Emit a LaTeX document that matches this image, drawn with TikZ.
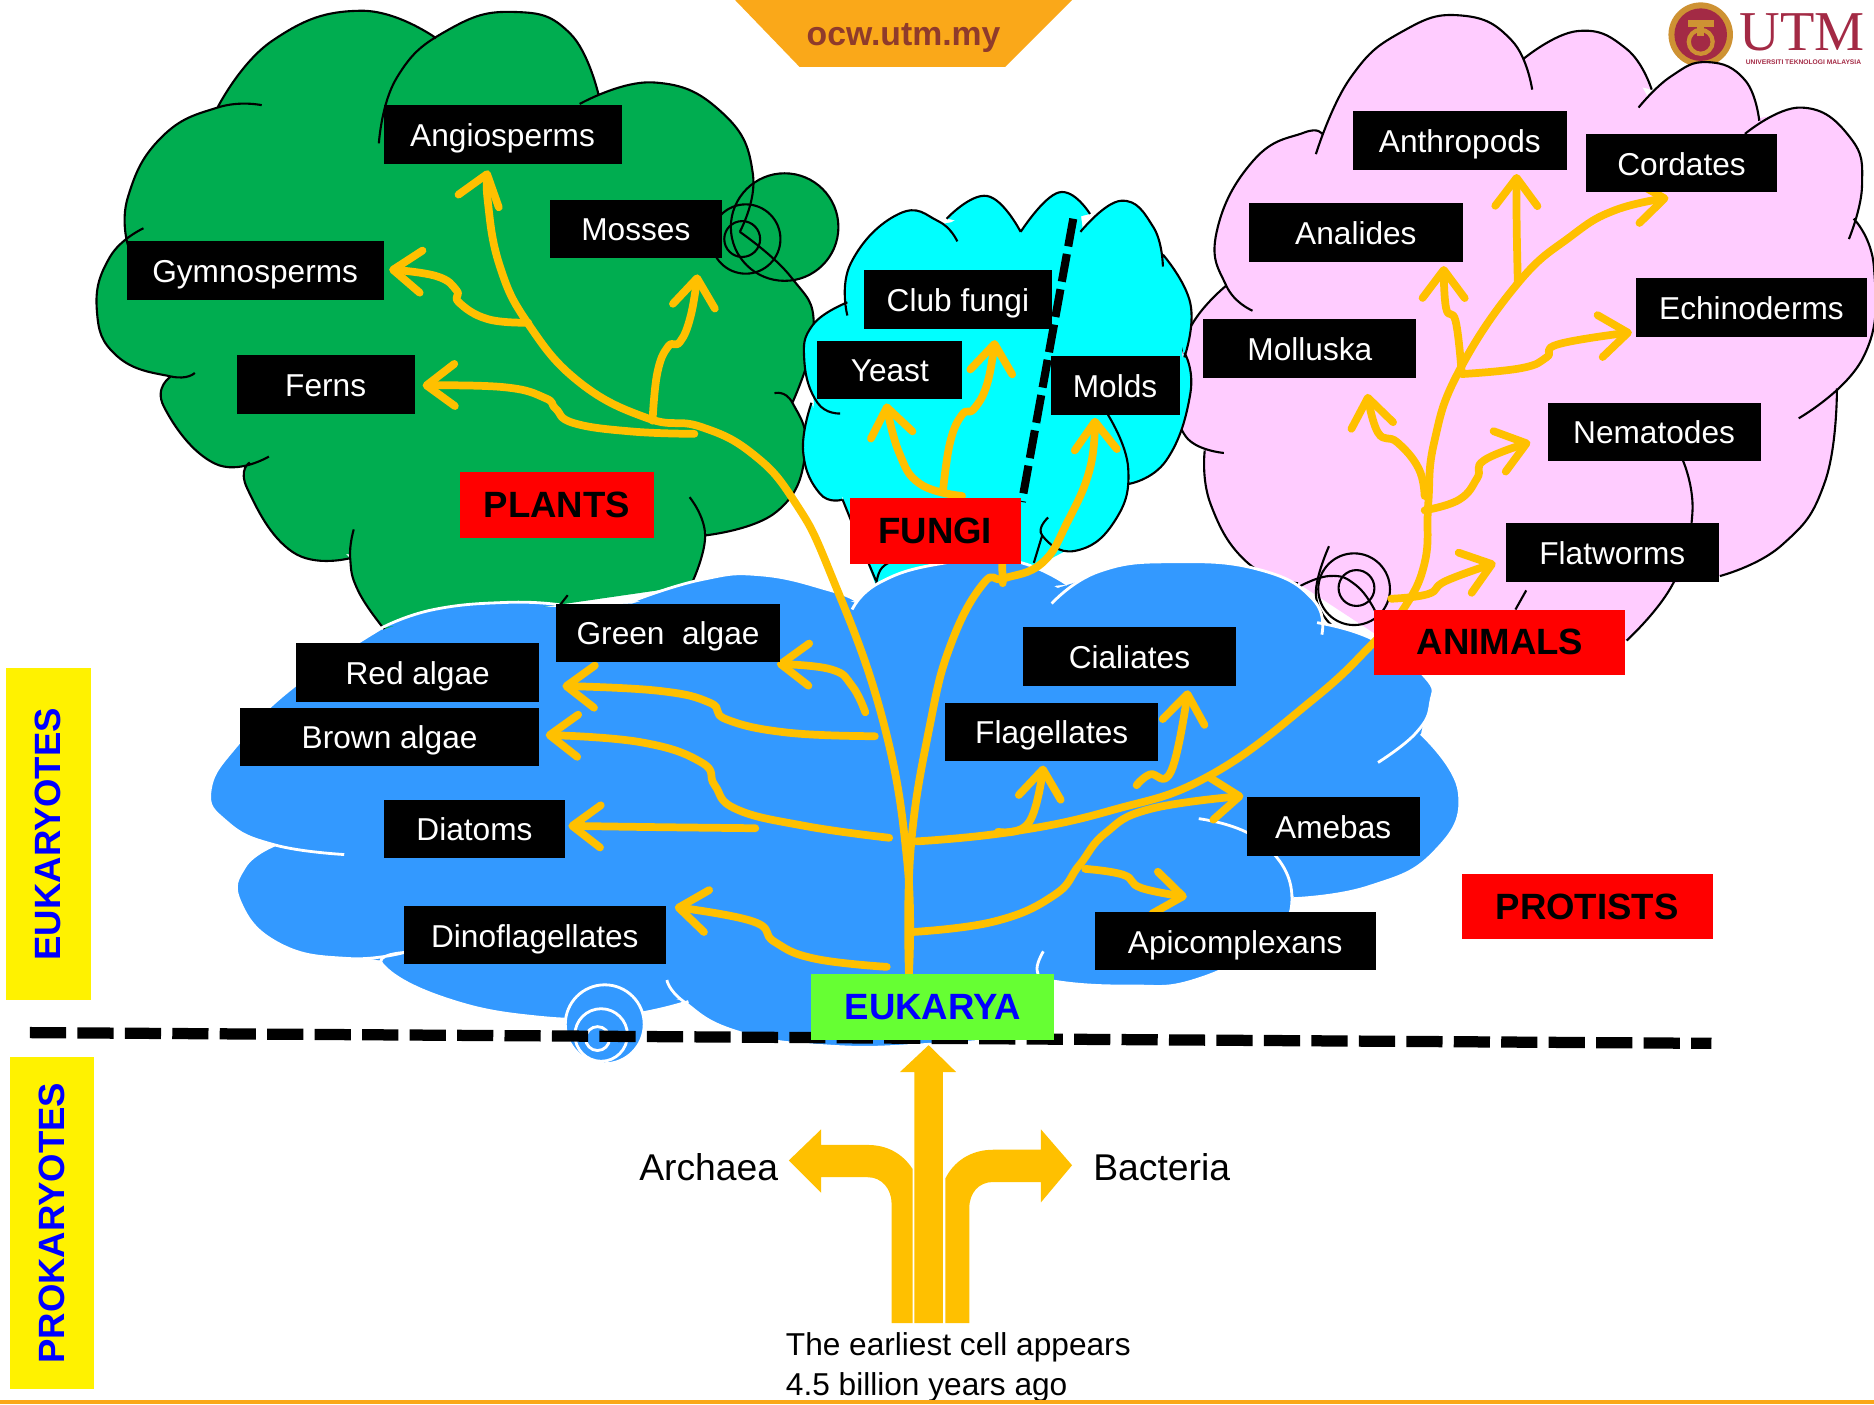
\documentclass[tikz,border=0pt]{standalone}
\usepackage{fontspec}
\setmainfont{Liberation Sans}
\newfontfamily\utmserif{Liberation Serif}
\usetikzlibrary{arrows.meta,calc,backgrounds}
\definecolor{gold}{HTML}{FFC000}
\definecolor{plantgreen}{HTML}{00AD50}
\definecolor{fungicyan}{HTML}{00FFFF}
\definecolor{animalpink}{HTML}{FFCCFF}
\definecolor{protistblue}{HTML}{3399FF}
\definecolor{eukgreen}{HTML}{66FF33}
\definecolor{tabgold}{HTML}{FAA819}
\definecolor{tabtext}{HTML}{8F3B2B}
\definecolor{utmred}{HTML}{A32A45}
\definecolor{utmgold}{HTML}{CE9233}
\def\unit{0.1195mm}
\tikzset{
  labelbox/.style={fill=black, text=white, inner sep=0pt, text height=6.8pt, text depth=0pt, minimum height=49*\unit, minimum width=#1*\unit, font=\fontsize{9}{11}\selectfont},
  redtag/.style={fill=red, inner sep=0pt, minimum height=55*\unit, minimum width=#1*\unit, font=\fontsize{10.4}{12}\selectfont\bfseries},
  sidebar/.style={fill=yellow, text=blue, inner sep=0pt, rotate=90, minimum height=71*\unit, minimum width=278*\unit, font=\fontsize{10.4}{12}\selectfont\bfseries},
  plainlabel/.style={inner sep=0pt, font=\fontsize{10.6}{12}\selectfont},
  bump/.style={smooth, tension=0.8},
  cloudline/.style={draw=black, line width=0.6pt},
  trunkline/.style={draw=gold, line width=2.2pt, line cap=round, line join=round, tension=0.75},
  branch/.style={trunkline, -{Straight Barb[length=8pt,width=12pt,round]}}
}
\begin{document}
\begin{tikzpicture}[x=0.01195cm, y=-0.01195cm]
\useasboundingbox (0,0) rectangle (1568,1175);
% logo and web tab
\begin{scope}[on background layer]
\fill[tabgold] (615,0) -- (669,56) -- (841,56) -- (897,0) -- cycle;
\fill[utmgold] (1423,29) circle (27);
\fill[utmred] (1423,29) circle (22);
\fill[utmgold] (1412,17) rectangle (1434,23);
\draw[utmgold, line width=1.2pt] (1423,35) circle (10);
\fill[utmgold] (1420,20) rectangle (1426,30);
\fill[utmred] (1423,33) circle (3);
% plants
\fill[plantgreen] (656.5,190) circle (45);
\fill[plantgreen] (182,90) -- (240,30) -- (302,12) -- (365,34) -- (430,13) -- (485,42) -- (495,85) -- (547,72) -- (605,100) -- (627,146) -- (619,194) -- (672,255) -- (678,274) -- (663,337) -- (670,378) -- (650,425) -- (590,446) -- (578,490) -- (322,527) -- (293,464) -- (245,458) -- (212,409) -- (209,387) -- (185,384) -- (142,340) -- (143,315) -- (100,296) -- (85,259) -- (95,215) -- (107,205) -- (110,165) -- (138,118) -- cycle;
\filldraw[cloudline, fill=plantgreen]
  plot[bump] coordinates {(182,90) (228,34) (302,9) (365,32)}
  plot[bump] coordinates {(317,120) (332,65) (375,25) (430,10) (477,28) (501,80)}
  plot[bump] coordinates {(485,87) (547,69) (605,95) (630,146) (619,194)}
  plot[bump] coordinates {(619,194) (662,232) (681,274) (663,337)}
  plot[bump] coordinates {(648,329) (663,337) (674,378) (650,428) (590,448)}
  plot[bump] coordinates {(577,416) (590,448) (578,490)}
  plot[bump] coordinates {(296,443) (293,467) (300,495) (322,527)}
  plot[bump] coordinates {(293,467) (245,462) (207,409) (209,387)}
  plot[bump] coordinates {(225,382) (180,388) (137,340) (143,315)}
  plot[bump] coordinates {(163,312) (143,315) (98,298) (81,259) (92,215) (120,191)}
  plot[bump] coordinates {(107,205) (107,165) (135,115) (182,90) (219,88)}
  plot coordinates {(475,498) (468,507)};
\draw[cloudline] (656.5,190) circle (45);
\draw[cloudline] (624,200) circle (29);
\draw[cloudline] (621,200) circle (15);
% animals
\fill[animalpink] (1130,70) -- (1174,30) -- (1223,16) -- (1262,36) -- (1275,49) -- (1320,29) -- (1358,43) -- (1378,80) -- (1398,67) -- (1429,55) -- (1458,69) -- (1465,100) -- (1507,93) -- (1545,115) -- (1555,155) -- (1551,183) -- (1565,224) -- (1556,299) -- (1537,325) -- (1524,403) -- (1489,453) -- (1439,482) -- (1400,488) -- (1361,536) -- (1150,530) -- (1086,488) -- (1046,468) -- (1016,422) -- (1008,377) -- (994,363) -- (989,325) -- (998,276) -- (1026,239) -- (1021,194) -- (1051,136) -- (1091,114) -- (1106,112) -- cycle;
\filldraw[cloudline, fill=animalpink]
  plot[bump] coordinates {(1101,129) (1130,65) (1174,26) (1223,13) (1265,34) (1282,75)}
  plot[bump] coordinates {(1275,49) (1320,26) (1361,41) (1382,75)}
  plot[bump] coordinates {(1371,90) (1398,64) (1429,52) (1460,67) (1472,101)}
  plot[bump] coordinates {(1460,112) (1507,90) (1548,115) (1558,155) (1547,200)}
  plot[bump] coordinates {(1551,183) (1568,224) (1559,299) (1505,350)}
  plot[bump] coordinates {(1537,325) (1527,403) (1491,456) (1439,482)}
  plot[bump] coordinates {(1408,385) (1416,430) (1400,488) (1361,536)}
  plot coordinates {(1277,494) (1268,510)}
  plot[bump] coordinates {(1106,112) (1091,111) (1049,134) (1018,194) (1026,239) (1048,260)}
  plot[bump] coordinates {(1026,239) (995,276) (986,325) (992,365) (1024,379)}
  plot[bump] coordinates {(1008,377) (1013,422) (1044,471) (1086,488)};
\draw[cloudline] (1133,493) circle (30);
\draw[cloudline] (1135,492) circle (15);
\draw[cloudline] plot[bump] coordinates {(1083,493) (1112,482) (1135,490) (1151,512)};
\draw[cloudline] plot[bump] coordinates {(1112,457) (1101,497) (1114,523)};
% fungi
\fill[fungicyan] (714,222) -- (752,183) -- (785,188) -- (796,186) -- (826,168) -- (850,192) -- (856,192) -- (886,165) -- (904,177) -- (906,192) -- (938,172) -- (962,190) -- (973,213) -- (992,254) -- (989,295) -- (992,329) -- (973,383) -- (944,402) -- (929,435) -- (899,457) -- (865,475) -- (733,490) -- (705,416) -- (688,410) -- (676,378) -- (681,337) -- (677,302) -- (684,274) -- (709,255) -- cycle;
\filldraw[cloudline, fill=fungicyan]
  plot[bump] coordinates {(709,264) (712,220) (752,179) (785,185) (801,202)}
  plot[bump] coordinates {(792,183) (826,164) (854,194)}
  plot[bump] coordinates {(854,194) (886,161) (912,179)}
  plot[bump] coordinates {(904,194) (938,168) (965,190) (973,223)}
  plot[bump] coordinates {(973,213) (996,254) (991,299)}
  plot[bump] coordinates {(991,295) (996,329) (976,385) (944,405)}
  plot[bump] coordinates {(927,347) (944,392) (932,437) (899,461) (872,448) (877,433)}
  plot coordinates {(872,448) (865,471)}
  plot[bump] coordinates {(709,253) (680,272) (673,302) (684,337) (703,346)}
  plot[bump] coordinates {(679,337) (672,378) (686,413) (705,418)}
  plot[bump] coordinates {(705,418) (720,455) (733,486)}
  plot[bump] coordinates {(733,490) (738,475) (752,468)};
% protists
\fill[protistblue] (320,527) -- (363,513) -- (425,507) -- (468,508) -- (529,505) -- (587,488) -- (637,484) -- (695,497) -- (717,505) -- (735,491) -- (785,475) -- (846,472) -- (885,492) -- (920,481) -- (983,473) -- (1053,480) -- (1097,504) -- (1102,521) -- (1149,538) -- (1189,566) -- (1194,588) -- (1189,614) -- (1218,663) -- (1197,711) -- (1143,739) -- (1081,750) -- (1053,788) -- (1000,817) -- (944,822) -- (882,819) -- (850,862) -- (774,871) -- (690,872) -- (616,860) -- (572,835) -- (520,847) -- (450,848) -- (373,832) -- (320,804) -- (291,799) -- (240,785) -- (208,755) -- (212,727) -- (230,707) -- (194,685) -- (180,660) -- (205,622) -- (247,577) -- cycle;
\filldraw[draw=white, line width=0.8pt, fill=protistblue]
  plot[bump] coordinates {(320,525) (363,510) (425,504) (468,506)}
  plot[bump] coordinates {(529,503) (587,485) (637,481) (695,494) (717,503)}
  plot[bump] coordinates {(713,510) (735,488) (785,472) (846,469) (893,489)}
  plot[bump] coordinates {(880,505) (920,478) (983,470) (1055,477) (1099,502) (1106,531)}
  plot[bump] coordinates {(1102,521) (1149,535) (1192,566) (1197,588) (1185,613) (1153,638)}
  plot[bump] coordinates {(1189,614) (1221,663) (1200,713) (1145,742) (1081,752)}
  plot[bump] coordinates {(1003,685) (1055,704) (1081,752) (1055,790) (1000,820) (944,825) (882,821) (868,813) (873,796)}
  plot[bump] coordinates {(880,840) (850,865) (774,874) (690,875) (616,863) (572,838) (558,820)}
  plot[bump] coordinates {(576,838) (520,850) (450,851) (371,835) (320,807) (338,797)}
  plot[bump] coordinates {(338,797) (291,802) (234,790) (201,755) (205,725) (230,707)}
  plot[bump] coordinates {(288,715) (230,707) (190,688) (176,660) (201,620) (245,575) (320,525)};
\filldraw[draw=white, line width=0.8pt, fill=protistblue] (506,857) circle (33);
\draw[white, line width=0.8pt] (503,866) circle (22);
\draw[white, line width=0.8pt] (500,869) circle (10);
% dividing lines
\draw[line width=3.2pt, dash pattern=on 10.3pt off 3.2pt] (25,864) -- (1432,873);
\draw[line width=2.3pt, dash pattern=on 8pt off 2.2pt] (898,183) -- (855,420);
\end{scope}
% labels
\draw (756,32) node[inner sep=0pt, text=tabtext, font=\fontsize{9.6}{11}\selectfont\bfseries] (tabtext) {ocw.utm.my};
\draw (1508,27) node[inner sep=0pt, text=utmred, font=\fontsize{16}{18}\selectfont\utmserif] (utm) {UTM};
\draw (1509,52) node[inner sep=0pt, text=utmred, font=\fontsize{1.9}{3}\selectfont\bfseries] (utmname) {UNIVERSITI TEKNOLOGI MALAYSIA};
\draw (420.5,112.5) node[labelbox=199] (angio) {Angiosperms};
\draw (532,191.5) node[labelbox=144] (mosses) {Mosses};
\draw (213.5,226.5) node[labelbox=215] (gymno) {Gymnosperms};
\draw (272.5,321.5) node[labelbox=149] (ferns) {Ferns};
\draw (466,422.5) node[redtag=162] (plants) {PLANTS};
\draw (801.5,250.5) node[labelbox=157] (club) {Club fungi};
\draw (744.5,309.5) node[labelbox=121] (yeast) {Yeast};
\draw (933,322.5) node[labelbox=108] (molds) {Molds};
\draw (782.5,444) node[redtag=143] (fungi) {FUNGI};
\draw (1221.5,117.5) node[labelbox=179] (anthro) {Anthropods};
\draw (1407,136.5) node[labelbox=160] (cordates) {Cordates};
\draw (1134.5,194.5) node[labelbox=179] (analides) {Analides};
\draw (1465.5,257.5) node[labelbox=193] (echino) {Echinoderms};
\draw (1096,291.5) node[labelbox=178] (mollusk) {Molluska};
\draw (1384,361.5) node[labelbox=178] (nema) {Nematodes};
\draw (1349,462.5) node[labelbox=178] (flat) {Flatworms};
\draw (1255,537.5) node[redtag=210] (animals) {ANIMALS};
\draw (559,529.5) node[labelbox=188] (greenalg) {Green\ \ algae};
\draw (349.5,562.5) node[labelbox=203] (redalg) {Red algae};
\draw (326,616.5) node[labelbox=250] (brownalg) {Brown algae};
\draw (945,549.5) node[labelbox=178] (ciali) {Cialiates};
\draw (880,612.5) node[labelbox=178] (flag) {Flagellates};
\draw (1115.5,691.5) node[labelbox=145] (amebas) {Amebas};
\draw (397,693.5) node[labelbox=152] (diatoms) {Diatoms};
\draw (447.5,782.5) node[labelbox=219] (dino) {Dinoflagellates};
\draw (1033.5,787.5) node[labelbox=235] (apico) {Apicomplexans};
\draw (1328,758.5) node[redtag=210] (protists) {PROTISTS};
\draw (780.5,842.5) node[redtag=203, fill=eukgreen, text=blue] (eukarya) {EUKARYA};
\draw (40.5,698) node[sidebar] (eukaryotes) {EUKARYOTES};
\draw (43.5,1023.5) node[sidebar] (prokaryotes) {PROKARYOTES};
\draw (593,977) node[plainlabel] (archaea) {Archaea};
\draw (972,977) node[plainlabel] (bacteria) {Bacteria};
\draw (657,1144) node[plainlabel, anchor=west, align=left, font=\fontsize{9}{11.2}\selectfont] (earliest) {The earliest cell appears\\4.5 billion years ago};
% where the branches leave
\coordinate (gymnostart) at (442,270);
\coordinate (mossstart) at (546,352);
\coordinate (fernstart) at (581,363);
\coordinate (yeaststart) at (805,415);
\coordinate (clubstart) at (789,411);
\coordinate (analstart) at (1223,312);
\coordinate (anthrostart) at (1270,237);
\coordinate (echinostart) at (1223,313);
\coordinate (molluskstart) at (1192,415);
\coordinate (nemastart) at (1192,427);
\coordinate (flatstart) at (1164,501);
\coordinate (greenstart) at (724,596);
\coordinate (redstart) at (732,616);
\coordinate (brownstart) at (744,701);
\coordinate (diatomstart) at (632,693);
\coordinate (dinostart) at (742,809);
\coordinate (amebastart) at (761,780);
\coordinate (apicostart) at (908,727);
\coordinate (flagstart) at (835,696);
\coordinate (cialistart) at (951,657);
\coordinate (animalfork) at (767,704);
\begin{scope}[on background layer]
% plants
\draw[branch] plot[smooth] coordinates {($(eukarya.north)+(-20,0)$) (759,720) (738,600) (695,480) (665,420) (630,380) (586,357) (542,350) (485,320) (442,271) (418,222) (408,167) ($(angio.south)+(-12,5)$)};
\draw[branch] plot[smooth] coordinates {(gymnostart) (408,267) (384,253) (382,243) (365,231) ($(gymno.east)+(4,-1)$)};
\draw[branch] plot[smooth] coordinates {(mossstart) (550,312) (559,290) (569,286) (578,264) ($(mosses.south east)+(-21,13)$)};
\draw[branch] plot[smooth] coordinates {(fernstart) (528,361) (480,354) (465,342) (456,333) (422,324) ($(ferns.east)+(6,1)$)};
% fungi
\draw[branch] plot[smooth] coordinates {($(eukarya.north)+(-20,0)$) (762,710) (778,607) (796,538) (823,488) (840,484) (872,471) (893,437) (912,392) ($(molds.south)+(-17,2)$)};
\draw[trunkline] ($(fungi.south)+(56,0)$) -- (839,488);
\draw[branch] plot[smooth] coordinates {(yeaststart) (770,405) (752,378) ($(yeast.south)+(-3,3)$)};
\draw[branch] plot[smooth] coordinates {(clubstart) (795,370) (805,347) (815,342) (826,321) ($(club.south)+(31,9)$)};
% animals
\draw[branch] plot[smooth] coordinates {(animalfork) (846,696) (930,678) (1012,649) (1099,585) (1149,538) (1174,510) (1192,471) (1195,422) (1200,370) (1221,310) (1270,237) (1314,198) (1351,176) ($(cordates.south)+(-11,4)$)};
\draw[branch] plot[smooth] coordinates {(anthrostart) (1269,187) ($(anthro.south)+(47.5,3)$)};
\draw[branch] plot[smooth] coordinates {(analstart) (1218,269) (1210,258) ($(analides.south)+(73.5,3)$)};
\draw[branch] plot[smooth] coordinates {(echinostart) (1273,308) (1294,299) (1304,288) ($(echino.west)+(-3,20.5)$)};
\draw[branch] plot[smooth] coordinates {(molluskstart) (1187,392) (1169,370) (1153,362) ($(mollusk.south)+(48,13)$)};
\draw[branch] plot[smooth] coordinates {(nemastart) (1221,418) (1236,400) (1242,385) ($(nema.west)+(-14,8.5)$)};
\draw[branch] plot[smooth] coordinates {(flatstart) (1195,497) (1210,486) ($(flat.west)+(-8,8.5)$)};
% protists
\draw[branch] plot[smooth] coordinates {(greenstart) (713,574) (695,560) ($(greenalg.south)+(91,1)$)};
\draw[branch] plot[smooth] coordinates {(redstart) (659,613) (608,602) (594,588) (551,578) ($(redalg.east)+(19,11.5)$)};
\draw[branch] plot[smooth] coordinates {(brownstart) (673,691) (616,677) (598,657) (587,638) (536,621) ($(brownalg.east)+(5,-1.5)$)};
\draw[branch] plot[smooth] coordinates {(diatomstart) (543,692) ($(diatoms.east)+(2,-2.5)$)};
\draw[branch] plot[smooth] coordinates {(dinostart) (681,802) (648,788) (630,771) ($(dino.east)+(7,-23.5)$)};
\draw[branch] plot[smooth] coordinates {(amebastart) (832,771) (882,749) (903,724) (925,697) (962,677) ($(amebas.west)+(-2,-25.5)$)};
\draw[branch] plot[smooth] coordinates {(apicostart) (940,732) (955,743) ($(apico.north)+(-40.5,-12)$)};
\draw[branch] plot[smooth] coordinates {(flagstart) (861,688) ($(flag.south)+(-7,3)$)};
\draw[branch] plot[smooth] coordinates {(cialistart) (962,648) (980,645) ($(ciali.south)+(49,3)$)};
\end{scope}
% the three wide arrows
\fill[gold] (765,1107) -- (765,897) -- (753,897) -- (777,874.5) -- (800,897) -- (789,897) -- (789,1107) -- cycle;
\fill[gold] (763.5,1107) -- (763.5,978) .. controls (755,965) and (742,958) .. (726,958) -- (687,958) -- (687,945) -- (660,971) -- (687,998) -- (687,985) -- (726,985) .. controls (738,985) and (746,995) .. (746,1007) -- (746,1107) -- cycle;
\fill[gold] (791,1107) -- (791,986) .. controls (798,972) and (812,962) .. (831,962) -- (871,962) -- (871,945) -- (897,975) -- (871,1006) -- (871,989) -- (831,989) .. controls (819,989) and (811,998) .. (811,1011) -- (811,1107) -- cycle;
\fill[tabgold] (0,1171) rectangle (1568,1175);
\end{tikzpicture}
\end{document}
